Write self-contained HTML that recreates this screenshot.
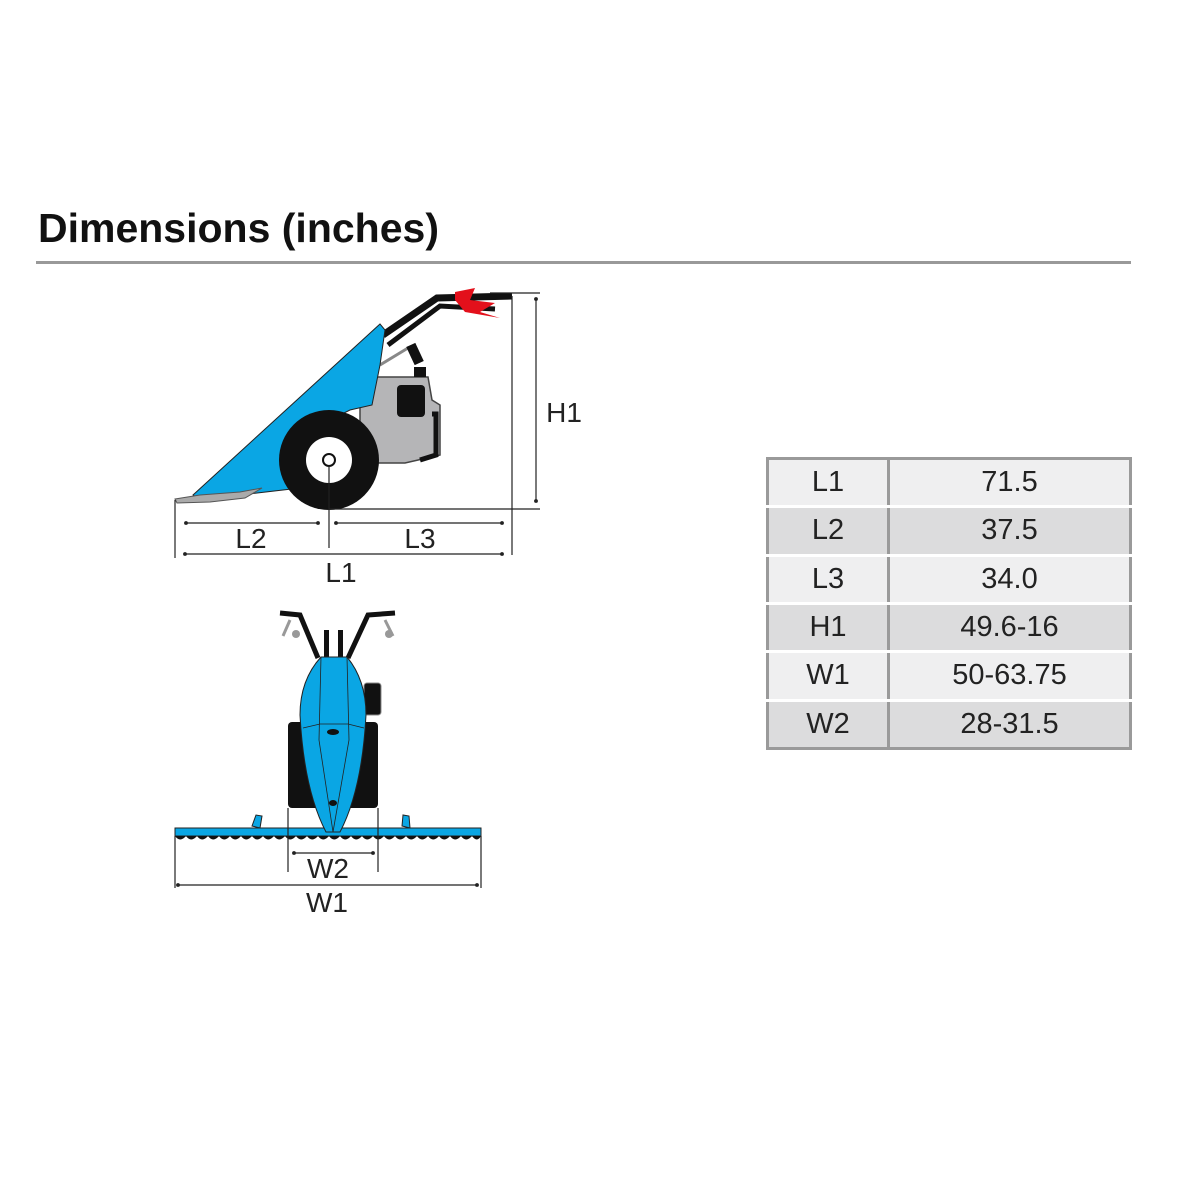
<!DOCTYPE html>
<html><head><meta charset="utf-8"><style>
body{margin:0;background:#fff;width:1200px;height:1200px;overflow:hidden;font-family:"Liberation Sans",Arial,sans-serif}
.t{position:absolute;left:38px;top:205px;font-size:41px;font-weight:bold;color:#111}
.rule{position:absolute;left:36px;top:261px;width:1095px;height:3px;background:#999}
table{position:absolute;left:766px;top:457px;width:366px;height:293px;border-collapse:collapse;border:3px solid #9a9a9a;font-size:29px;color:#222}
td{text-align:center;border-bottom:3px solid #fff;padding:0}
td:first-child{width:118px;border-right:3px solid #9a9a9a}
tr:nth-child(odd) td{background:#efeff0}
tr:nth-child(even) td{background:#dcdcdd}
tr:last-child td{border-bottom:none}
</style></head><body>
<div class="t">Dimensions (inches)</div>
<div class="rule"></div>
<table>
<tr><td>L1</td><td>71.5</td></tr>
<tr><td>L2</td><td>37.5</td></tr>
<tr><td>L3</td><td>34.0</td></tr>
<tr><td>H1</td><td>49.6-16</td></tr>
<tr><td>W1</td><td>50-63.75</td></tr>
<tr><td>W2</td><td>28-31.5</td></tr>
</table>
<svg width="1200" height="1200" style="position:absolute;left:0;top:0" font-family="Liberation Sans, Arial, sans-serif">
<defs><marker id="a" markerWidth="6" markerHeight="6" refX="3" refY="3" orient="auto"><circle cx="3" cy="3" r="1.6" fill="#222"/></marker></defs>
<path d="M383 335 L437 298 L512 296" stroke="#111" stroke-width="7" fill="none"/>
<path d="M388 345 L440 306 L495 309" stroke="#111" stroke-width="5" fill="none"/>
<path d="M455 292 L475 288 L470 300 L495 303 L480 312 L500 318 L465 312 L455 300Z" fill="#e3101b"/>
<path d="M380 365 L408 348 L418 352" stroke="#888" stroke-width="3" fill="none"/>
<rect x="410" y="344" width="10" height="20" fill="#111" transform="rotate(-25 415 354)"/>
<path d="M380 377 L428 377 L432 400 L440 405 L440 455 L405 463 L360 463 L360 377Z" fill="#b5b5b7" stroke="#444" stroke-width="1.5"/>
<rect x="397" y="385" width="28" height="32" rx="4" fill="#111"/>
<rect x="414" y="367" width="12" height="10" fill="#111"/>
<path d="M432 414 L436 414 L436 455 L420 460" stroke="#111" stroke-width="5" fill="none"/>
<path d="M193 495 L380 324 L385 330 L380 365 L372 405 L350 410 L320 425 L305 470 L300 488 L240 495 L200 500Z" fill="#0aa6e4" stroke="#222" stroke-width="1"/>
<path d="M175 499 L200 495 L240 492 L262 488 L245 498 L210 502 L177 503Z" fill="#aaa" stroke="#555" stroke-width="1"/>
<circle cx="329" cy="460" r="50" fill="#111"/>
<circle cx="329" cy="460" r="23" fill="#fff"/>
<circle cx="329" cy="460" r="6" fill="#fff" stroke="#111" stroke-width="2"/>
<g stroke="#222" stroke-width="1.2" fill="none">
<line x1="329" y1="466" x2="329" y2="548"/>
<line x1="329" y1="509" x2="540" y2="509"/>
<line x1="175" y1="500" x2="175" y2="558"/>
<line x1="512" y1="296" x2="512" y2="555"/>
<line x1="490" y1="293" x2="540" y2="293"/>
<line x1="186" y1="523" x2="318" y2="523" marker-start="url(#a)" marker-end="url(#a)"/>
<line x1="336" y1="523" x2="502" y2="523" marker-start="url(#a)" marker-end="url(#a)"/>
<line x1="185" y1="554" x2="502" y2="554" marker-start="url(#a)" marker-end="url(#a)"/>
<line x1="536" y1="299" x2="536" y2="501" marker-start="url(#a)" marker-end="url(#a)"/>
</g>
<g font-size="28" fill="#222" text-anchor="middle">
<text x="251" y="548">L2</text><text x="420" y="548">L3</text><text x="341" y="582">L1</text><text x="564" y="422">H1</text>
<text x="328" y="878">W2</text><text x="327" y="912">W1</text>
</g>
<path d="M318 658 L300 615 L280 613" stroke="#111" stroke-width="5" fill="none"/>
<path d="M348 658 L368 615 L395 613" stroke="#111" stroke-width="5" fill="none"/>
<path d="M290 620 L283 636 M385 620 L393 636" stroke="#999" stroke-width="3"/>
<circle cx="296" cy="634" r="4" fill="#999"/><circle cx="389" cy="634" r="4" fill="#999"/>
<rect x="324" y="630" width="5" height="28" fill="#111"/><rect x="338" y="630" width="5" height="28" fill="#111"/>
<rect x="364" y="683" width="17" height="32" rx="3" fill="#111" stroke="#888"/>
<rect x="288" y="722" width="90" height="86" rx="4" fill="#111"/>
<path d="M175 828 L481 828 L481 836 L175 836Z" fill="#0aa6e4" stroke="#222" stroke-width="1"/>
<path d="M175 836 Q180 843 186 836 Q191 843 197 836 Q202 843 208 836 Q213 843 219 836 Q224 843 230 836 Q235 843 241 836 Q246 843 252 836 Q257 843 263 836 Q268 843 274 836 Q279 843 285 836 Q290 843 296 836 Q301 843 307 836 Q312 843 318 836 Q323 843 329 836 Q334 843 340 836 Q345 843 351 836 Q356 843 362 836 Q367 843 373 836 Q378 843 384 836 Q389 843 395 836 Q400 843 406 836 Q411 843 417 836 Q422 843 428 836 Q433 843 439 836 Q444 843 450 836 Q455 843 461 836 Q466 843 472 836 Q477 843 481 836Z" fill="#111"/>
<path d="M252 826 L256 815 L262 816 L260 828Z" fill="#0aa6e4" stroke="#222"/>
<path d="M402 826 L403 815 L409 816 L410 828Z" fill="#0aa6e4" stroke="#222"/>
<path d="M321 657 L347 657 Q366 680 366 715 Q362 790 340 832 L326 832 Q304 790 300 715 Q300 680 321 657Z" fill="#0aa6e4" stroke="#222" stroke-width="1"/>
<path d="M321 657 L319 740 L333 832 M347 657 L349 740 L333 832 M303 728 L320 724 L348 724 L364 728" stroke="#222" stroke-width="0.8" fill="none"/>
<ellipse cx="333" cy="732" rx="6" ry="3" fill="#111"/><ellipse cx="333" cy="803" rx="4" ry="3" fill="#111"/>
<g stroke="#222" stroke-width="1.2" fill="none">
<line x1="288" y1="808" x2="288" y2="872"/><line x1="378" y1="808" x2="378" y2="872"/>
<line x1="294" y1="853" x2="373" y2="853" marker-start="url(#a)" marker-end="url(#a)"/>
<line x1="175" y1="836" x2="175" y2="888"/><line x1="481" y1="836" x2="481" y2="888"/>
<line x1="178" y1="885" x2="477" y2="885" marker-start="url(#a)" marker-end="url(#a)"/>
</g>
</svg>
</body></html>
